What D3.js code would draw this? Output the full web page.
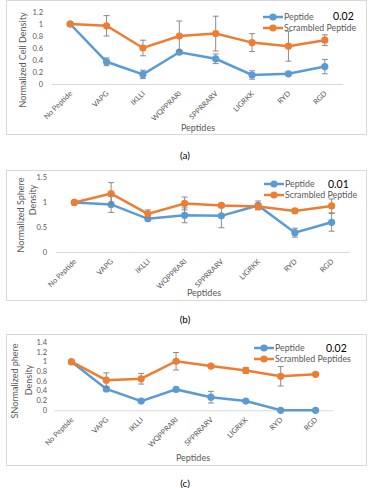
<!DOCTYPE html>
<html>
<head>
<meta charset="utf-8">
<script src="https://cdn.jsdelivr.net/npm/d3@7"></script>
<style>
  body { margin: 0; background: #fff; }
  svg { display: block; font-family: Lato, "Liberation Sans", sans-serif; }
</style>
</head>
<body>
<div id="chart"></div>
<script>
// Categories shared by the three panels
const peptides = ["No Peptide", "VAPG", "IKLLI", "WQPPRARI", "SPPRRARV", "LIGRKK", "RYD", "RGD"];

// (a) Normalized cell density
const cellPeptide = [1.0, 0.37, 0.16, 0.53, 0.42, 0.15, 0.17, 0.29];
const cellPeptideErr = [0, 0.065, 0.07, 0.025, 0.08, 0.07, 0.03, 0.12];
const cellScrambled = [1.0, 0.97, 0.60, 0.80, 0.84, 0.69, 0.63, 0.73];
const cellScrambledErr = [0, 0.17, 0.13, 0.25, 0.29, 0.15, 0.25, 0.09];

// (b) Normalized sphere density
const sphereBPeptide = [1.0, 0.96, 0.67, 0.74, 0.73, 0.94, 0.39, 0.60];
const sphereBPeptideErr = [0, 0.16, 0.04, 0.15, 0.24, 0.09, 0.09, 0.18];
const sphereBScrambled = [1.0, 1.18, 0.77, 0.98, 0.94, 0.92, 0.83, 0.93];
const sphereBScrambledErr = [0, 0.22, 0.08, 0.13, 0.04, 0.06, 0.04, 0.14];

// (c) Normalized sphere density
const sphereCPeptide = [1.0, 0.44, 0.19, 0.43, 0.27, 0.19, 0.0, 0.0];
const sphereCPeptideErr = [0, 0.04, 0.02, 0.03, 0.12, 0.03, 0, 0];
const sphereCScrambled = [1.0, 0.62, 0.65, 1.01, 0.91, 0.82, 0.70, 0.74];
const sphereCScrambledErr = [0, 0.15, 0.11, 0.18, 0.02, 0.06, 0.2, 0.02];

const blue = "#5b9bd5";
const orange = "#ed7d31";
const gray = "#595959";

const svg = d3.select("#chart").append("svg")
  .attr("width", 370)
  .attr("height", 488);

function drawPanel(p) {
  const g = svg.append("g");

  // chart frame
  g.append("rect")
    .attr("x", p.frame[0] + 0.5).attr("y", p.frame[1] + 0.5)
    .attr("width", p.frame[2]).attr("height", p.frame[3])
    .attr("fill", "none").attr("stroke", "#d9d9d9");

  const x = d3.scaleBand().domain(peptides).range(p.xRange);
  const y = d3.scaleLinear().domain([0, p.yMax]).range(p.yRange);
  const cx = d => x(d) + x.bandwidth() / 2;

  // baseline
  g.append("line")
    .attr("x1", p.xRange[0]).attr("x2", p.xRange[1])
    .attr("y1", y(0) + 0.5).attr("y2", y(0) + 0.5)
    .attr("stroke", "#d9d9d9");

  // y tick labels
  g.selectAll(".ytick")
    .data(p.ticks)
    .enter().append("text")
    .attr("x", p.tickX)
    .attr("y", d => y(d) + 2.5)
    .attr("text-anchor", "end")
    .attr("font-size", 7.5)
    .attr("fill", gray)
    .text(d => d3.format("~g")(d));

  // x tick labels, rotated
  g.selectAll(".xtick")
    .data(peptides)
    .enter().append("text")
    .attr("transform", d => `translate(${cx(d) + 2.5},${y(0) + 10}) rotate(-45)`)
    .attr("text-anchor", "end")
    .attr("font-size", 7.4)
    .attr("fill", gray)
    .text(d => d);

  // axis titles
  g.append("text")
    .attr("x", p.xTitle[0]).attr("y", p.xTitle[1])
    .attr("text-anchor", "middle")
    .attr("font-size", 9)
    .attr("fill", gray)
    .text("Peptides");

  p.yTitle.forEach(t => {
    g.append("text")
      .attr("transform", `translate(${t[0]},${t[1]}) rotate(-90)`)
      .attr("text-anchor", "middle")
      .attr("dy", "0.35em")
      .attr("font-size", 9)
      .attr("fill", gray)
      .text(t[2]);
  });

  // series: scrambled drawn after peptide so it lies on top
  p.series.forEach(s => {
    const pts = peptides.map((d, i) => ({ cat: d, v: s.values[i], e: s.err[i] }));

    g.append("path")
      .datum(pts)
      .attr("fill", "none")
      .attr("stroke", s.color)
      .attr("stroke-width", 2.5)
      .attr("d", d3.line().x(d => cx(d.cat)).y(d => y(d.v)));

    pts.filter(d => d.e > 0).forEach(d => {
      const x0 = cx(d.cat);
      const eb = g.append("g").attr("stroke", "#7f7f7f").attr("stroke-width", 0.9);
      eb.append("line").attr("x1", x0).attr("x2", x0)
        .attr("y1", y(d.v + d.e)).attr("y2", y(d.v - d.e));
      [d.v + d.e, d.v - d.e].forEach(v => {
        eb.append("line").attr("x1", x0 - 3).attr("x2", x0 + 3)
          .attr("y1", y(v)).attr("y2", y(v));
      });
    });

    g.selectAll(null)
      .data(pts)
      .enter().append("circle")
      .attr("cx", d => cx(d.cat))
      .attr("cy", d => y(d.v))
      .attr("r", 3.6)
      .attr("fill", s.color);
  });

  // legend: Peptide on top, scrambled below
  p.series.forEach((s, i) => {
    const ly = p.legend[1] + i * p.legend[2];
    g.append("line")
      .attr("x1", p.legend[0]).attr("x2", p.legend[0] + 20)
      .attr("y1", ly).attr("y2", ly)
      .attr("stroke", s.color).attr("stroke-width", 2.5);
    g.append("circle")
      .attr("cx", p.legend[0] + 10).attr("cy", ly)
      .attr("r", 3.6).attr("fill", s.color);
    g.append("text")
      .attr("x", p.legend[0] + 21).attr("y", ly + 3)
      .attr("font-size", 8.8)
      .attr("fill", gray)
      .text(s.name);
  });

  // p-value
  g.append("text")
    .attr("x", p.pval[0]).attr("y", p.pval[1])
    .attr("font-size", 10.5)
    .attr("fill", "#000")
    .text(p.pval[2]);

  // panel caption
  svg.append("text")
    .attr("x", 185).attr("y", p.caption[0])
    .attr("text-anchor", "middle")
    .attr("font-size", 10)
    .attr("fill", "#000")
    .text(p.caption[1]);
}

drawPanel({
  frame: [6, 0, 360, 134],
  xRange: [52, 343],
  yMax: 1.2, yRange: [84, 12],
  ticks: [0, 0.2, 0.4, 0.6, 0.8, 1, 1.2],
  tickX: 43,
  xTitle: [198, 131],
  yTitle: [[23, 60, "Normalized Cell Density"]],
  series: [
    { name: "Peptide", values: cellPeptide, err: cellPeptideErr, color: blue },
    { name: "Scrambled Peptide", values: cellScrambled, err: cellScrambledErr, color: orange }
  ],
  legend: [263, 17, 11],
  pval: [333, 20, "0.02"],
  caption: [159, "(a)"]
});

drawPanel({
  frame: [6, 170, 360, 130],
  xRange: [56, 350],
  yMax: 1.5, yRange: [252, 177.7],
  ticks: [0, 0.5, 1, 1.5],
  tickX: 47,
  xTitle: [204, 296],
  yTitle: [[21, 215, "Normalized Sphere"], [33, 200, "Density"]],
  series: [
    { name: "Peptide", values: sphereBPeptide, err: sphereBPeptideErr, color: blue },
    { name: "Scrambled Peptide", values: sphereBScrambled, err: sphereBScrambledErr, color: orange }
  ],
  legend: [264, 184, 11],
  pval: [328, 188, "0.01"],
  caption: [323, "(b)"]
});

drawPanel({
  frame: [6, 334, 360, 131],
  xRange: [54, 333],
  yMax: 1.4, yRange: [410.3, 342.3],
  ticks: [0, 0.2, 0.4, 0.6, 0.8, 1, 1.2, 1.4],
  tickX: 47,
  xTitle: [193, 461],
  yTitle: [[15, 381, "SNormalized phere"], [29, 380, "Density"]],
  series: [
    { name: "Peptide", values: sphereCPeptide, err: sphereCPeptideErr, color: blue },
    { name: "Scrambled Peptides", values: sphereCScrambled, err: sphereCScrambledErr, color: orange }
  ],
  legend: [254, 348, 11],
  pval: [326, 351.5, "0.02"],
  caption: [487, "(c)"]
});
</script>
</body>
</html>
